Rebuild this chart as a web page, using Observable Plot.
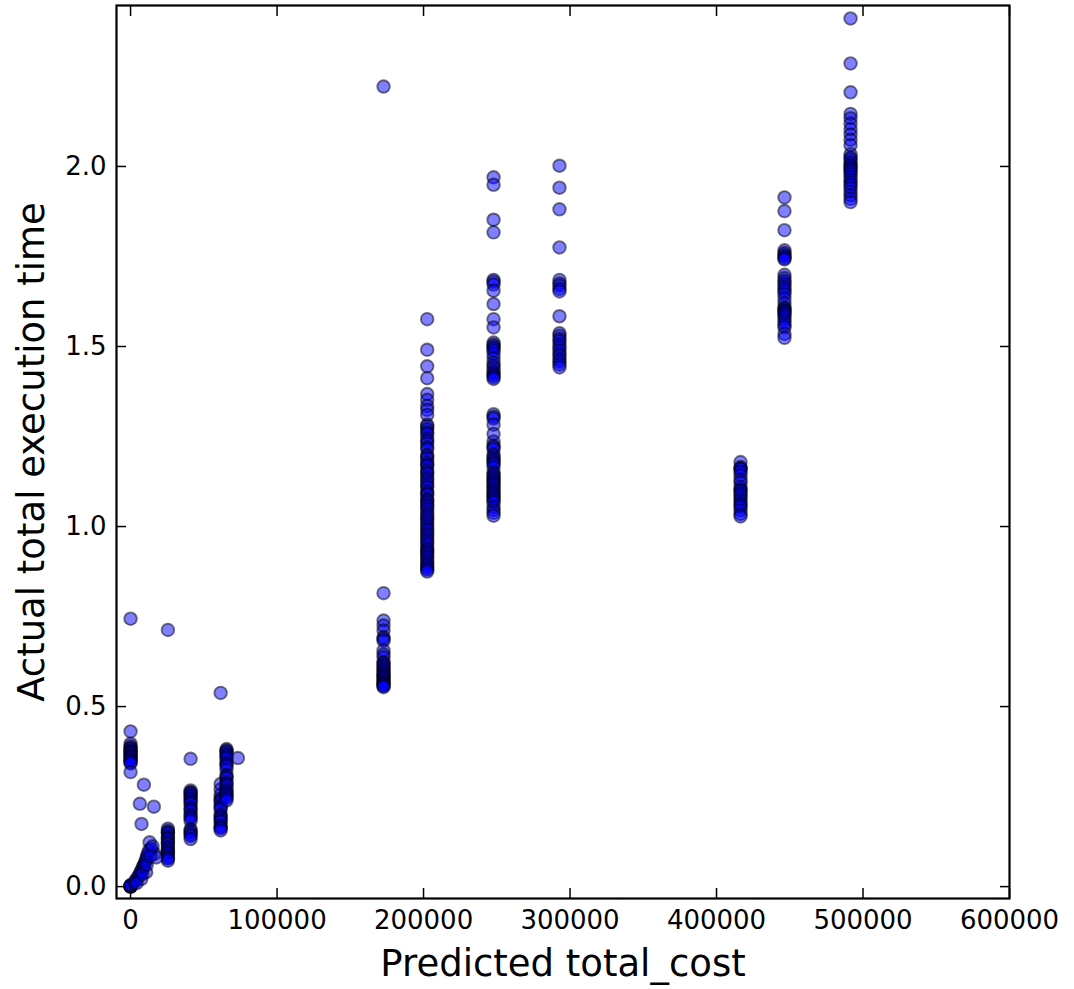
<!DOCTYPE html>
<html>
<head>
<meta charset="utf-8">
<script src="https://cdn.jsdelivr.net/npm/d3@7"></script>
<script src="https://cdn.jsdelivr.net/npm/@observablehq/plot@0.6"></script>
<style>
  html, body { margin: 0; padding: 0; background: #fff; }
  #chart svg { display: block; font-family: "DejaVu Sans", sans-serif; color: #000; }
</style>
</head>
<body>
<div id="chart"></div>
<script>
// ---- data ----
const xTicks = [0, 100000, 200000, 300000, 400000, 500000, 600000];
const yTicks = [0.0, 0.5, 1.0, 1.5, 2.0];
const xLabel = "Predicted total_cost";
const yLabel = "Actual total execution time";

// vertical clusters: one predicted cost, many measured times (repeats = overlapping runs)
const cost0 = 0;
const times0 = [0.744, 0.431, 0.397, 0.39, 0.385, 0.383, 0.378, 0.375, 0.372, 0.37, 0.365, 0.362, 0.36, 0.355, 0.352, 0.35, 0.345, 0.342, 0.318,
                0.0, 0.0, 0.0, 0.001, 0.002, 0.003, 0.004];

const cost26k = 25500;
const times26k = [0.713, 0.161, 0.155, 0.15, 0.148, 0.14, 0.135, 0.132, 0.125, 0.12, 0.118, 0.11, 0.105, 0.1, 0.095, 0.092, 0.085, 0.08, 0.078, 0.072];

const cost41k = 41000;
const times41k = [0.355, 0.267, 0.262, 0.26, 0.255, 0.25, 0.245, 0.24, 0.235, 0.23, 0.22, 0.215, 0.21, 0.2, 0.195, 0.19, 0.183, 0.16, 0.155, 0.15, 0.145, 0.14, 0.132];

const cost61k = 61500;
const times61k = [0.538, 0.285, 0.27, 0.255, 0.245, 0.24, 0.235, 0.225, 0.22, 0.215, 0.2, 0.195, 0.19, 0.185, 0.18, 0.17, 0.165, 0.162, 0.156];

const cost65k = 65500;
const times65k = [0.382, 0.378, 0.375, 0.37, 0.365, 0.36, 0.355, 0.345, 0.34, 0.335, 0.325, 0.31, 0.305, 0.3, 0.29, 0.285, 0.28, 0.27, 0.265, 0.26, 0.255, 0.25, 0.245, 0.239];

const cost173k = 172700;
const times173k = [2.222, 0.815, 0.739, 0.725, 0.711, 0.693, 0.688, 0.683, 0.656, 0.645, 0.637, 0.623, 0.62, 0.615, 0.61, 0.605, 0.6, 0.595, 0.59, 0.588, 0.584, 0.58, 0.576, 0.572, 0.568, 0.565, 0.562, 0.56, 0.557, 0.554];

const cost203k = 202500;
const times203k = [1.576, 1.491, 1.445, 1.412, 1.368, 1.352, 1.335, 1.324, 1.31, 1.283, 1.278, 1.27, 1.262, 1.257, 1.245, 1.238, 1.231, 1.22, 1.215, 1.199, 1.194, 1.188, 1.178, 1.172, 1.167, 1.157, 1.15, 1.146, 1.136, 1.13, 1.122, 1.115, 1.109, 1.098, 1.092, 1.088, 1.077, 1.072, 1.067, 1.06, 1.055, 1.048, 1.04, 1.033, 1.027, 1.02, 1.014, 1.007, 1.0, 0.993, 0.988, 0.98, 0.975, 0.968, 0.961, 0.955, 0.948, 0.94, 0.935, 0.93, 0.925, 0.918, 0.914, 0.907, 0.9, 0.895, 0.89, 0.885, 0.88, 0.875];

const cost248k = 247800;
const times248k = [1.970, 1.949, 1.852, 1.817, 1.685, 1.68, 1.672, 1.655, 1.618, 1.576, 1.553, 1.511, 1.505, 1.5, 1.495, 1.489, 1.48, 1.468, 1.455, 1.447, 1.44, 1.431, 1.425, 1.42, 1.415, 1.41, 1.312, 1.305, 1.3, 1.283, 1.257, 1.236, 1.225, 1.22, 1.215, 1.2, 1.194, 1.188, 1.183, 1.178, 1.173, 1.165, 1.151, 1.145, 1.14, 1.135, 1.13, 1.125, 1.12, 1.115, 1.109, 1.103, 1.098, 1.093, 1.088, 1.083, 1.078, 1.072, 1.067, 1.055, 1.046, 1.038, 1.03];

const cost293k = 292800;
const times293k = [2.002, 1.941, 1.881, 1.775, 1.685, 1.675, 1.669, 1.66, 1.653, 1.584, 1.537, 1.53, 1.521, 1.515, 1.505, 1.497, 1.489, 1.48, 1.474, 1.465, 1.458, 1.45, 1.442];

const cost416k = 416400;
const times416k = [1.179, 1.165, 1.161, 1.16, 1.152, 1.142, 1.13, 1.122, 1.11, 1.102, 1.1, 1.093, 1.087, 1.08, 1.072, 1.065, 1.06, 1.054, 1.045, 1.035, 1.028];

const cost446k = 446400;
const times446k = [1.914, 1.876, 1.823, 1.767, 1.76, 1.755, 1.75, 1.745, 1.742, 1.699, 1.69, 1.682, 1.675, 1.667, 1.66, 1.653, 1.645, 1.633, 1.62, 1.608, 1.605, 1.6, 1.598, 1.593, 1.59, 1.583, 1.575, 1.568, 1.56, 1.553, 1.535, 1.524];

const cost491k = 491500;
const times491k = [2.411, 2.286, 2.206, 2.146, 2.134, 2.119, 2.104, 2.089, 2.074, 2.059, 2.034, 2.025, 2.020, 2.012, 2.005, 2.0, 1.995, 1.99, 1.985, 1.978, 1.970, 1.962, 1.955, 1.948, 1.940, 1.93, 1.920, 1.91, 1.901];

// scattered points near the origin
const looseCost = [2700, 3500, 5000, 5800, 6800, 7500, 8400, 9000, 9600, 10200, 10700, 11300, 11800, 13000, 14100, 16400, 17500, 10700, 7300, 12500, 15000, 4200, 8000, 11000, 13500, 9100, 6350, 15900, 7500, 73300];
const looseTime = [0.012, 0.018, 0.026, 0.032, 0.040, 0.046, 0.054, 0.058, 0.063, 0.070, 0.077, 0.084, 0.091, 0.123, 0.105, 0.091, 0.081, 0.040, 0.021, 0.100, 0.112, 0.010, 0.035, 0.060, 0.085, 0.283, 0.230, 0.222, 0.174, 0.357];

// ---- build rows ----
const clusters = [
  [cost0, times0], [cost26k, times26k], [cost41k, times41k], [cost61k, times61k],
  [cost65k, times65k], [cost173k, times173k], [cost203k, times203k], [cost248k, times248k],
  [cost293k, times293k], [cost416k, times416k], [cost446k, times446k], [cost491k, times491k]
];
const rows = [];
for (const [c, ts] of clusters) for (const t of ts) rows.push({cost: c, time: t});
looseCost.forEach((c, i) => rows.push({cost: c, time: looseTime[i]}));

const blank = () => "";

const chart = Plot.plot({
  width: 1074,
  height: 989,
  marginLeft: 116,
  marginRight: 65,
  marginTop: 5,
  marginBottom: 91,
  style: {fontFamily: "DejaVu Sans, sans-serif", color: "#000", background: "#fff"},
  x: {domain: [-9600, 600000]},
  y: {domain: [-0.033, 2.447]},
  marks: [
    Plot.dot(rows, {x: "cost", y: "time", r: 6.3, fill: "blue", fillOpacity: 0.5,
                    stroke: "black", strokeOpacity: 0.5, strokeWidth: 1.9}),
    Plot.axisX(xTicks, {anchor: "bottom", tickSize: 0, tickPadding: 12, tickFormat: d3.format("d"), fontSize: 26, label: null}),
    Plot.axisX(xTicks, {anchor: "bottom", tickSize: -10, tickFormat: blank, strokeWidth: 1.5, label: null}),
    Plot.axisX(xTicks, {anchor: "top", tickSize: -10, tickFormat: blank, strokeWidth: 1.5, label: null}),
    Plot.axisY(yTicks, {anchor: "left", tickSize: 0, tickPadding: 10, tickFormat: d3.format(".1f"), fontSize: 26, label: null}),
    Plot.axisY(yTicks, {anchor: "left", tickSize: -10, tickFormat: blank, strokeWidth: 1.5, label: null}),
    Plot.axisY(yTicks, {anchor: "right", tickSize: -10, tickFormat: blank, strokeWidth: 1.5, label: null}),
    Plot.frame({stroke: "black", strokeWidth: 2.2}),
    Plot.text([xLabel], {frameAnchor: "bottom", textAnchor: "middle", lineAnchor: "middle", dy: 66, fontSize: 37}),
    Plot.text([yLabel], {frameAnchor: "left", textAnchor: "middle", lineAnchor: "middle", rotate: -90, dx: -84, fontSize: 37})
  ]
});
document.getElementById("chart").appendChild(chart);
</script>
</body>
</html>
